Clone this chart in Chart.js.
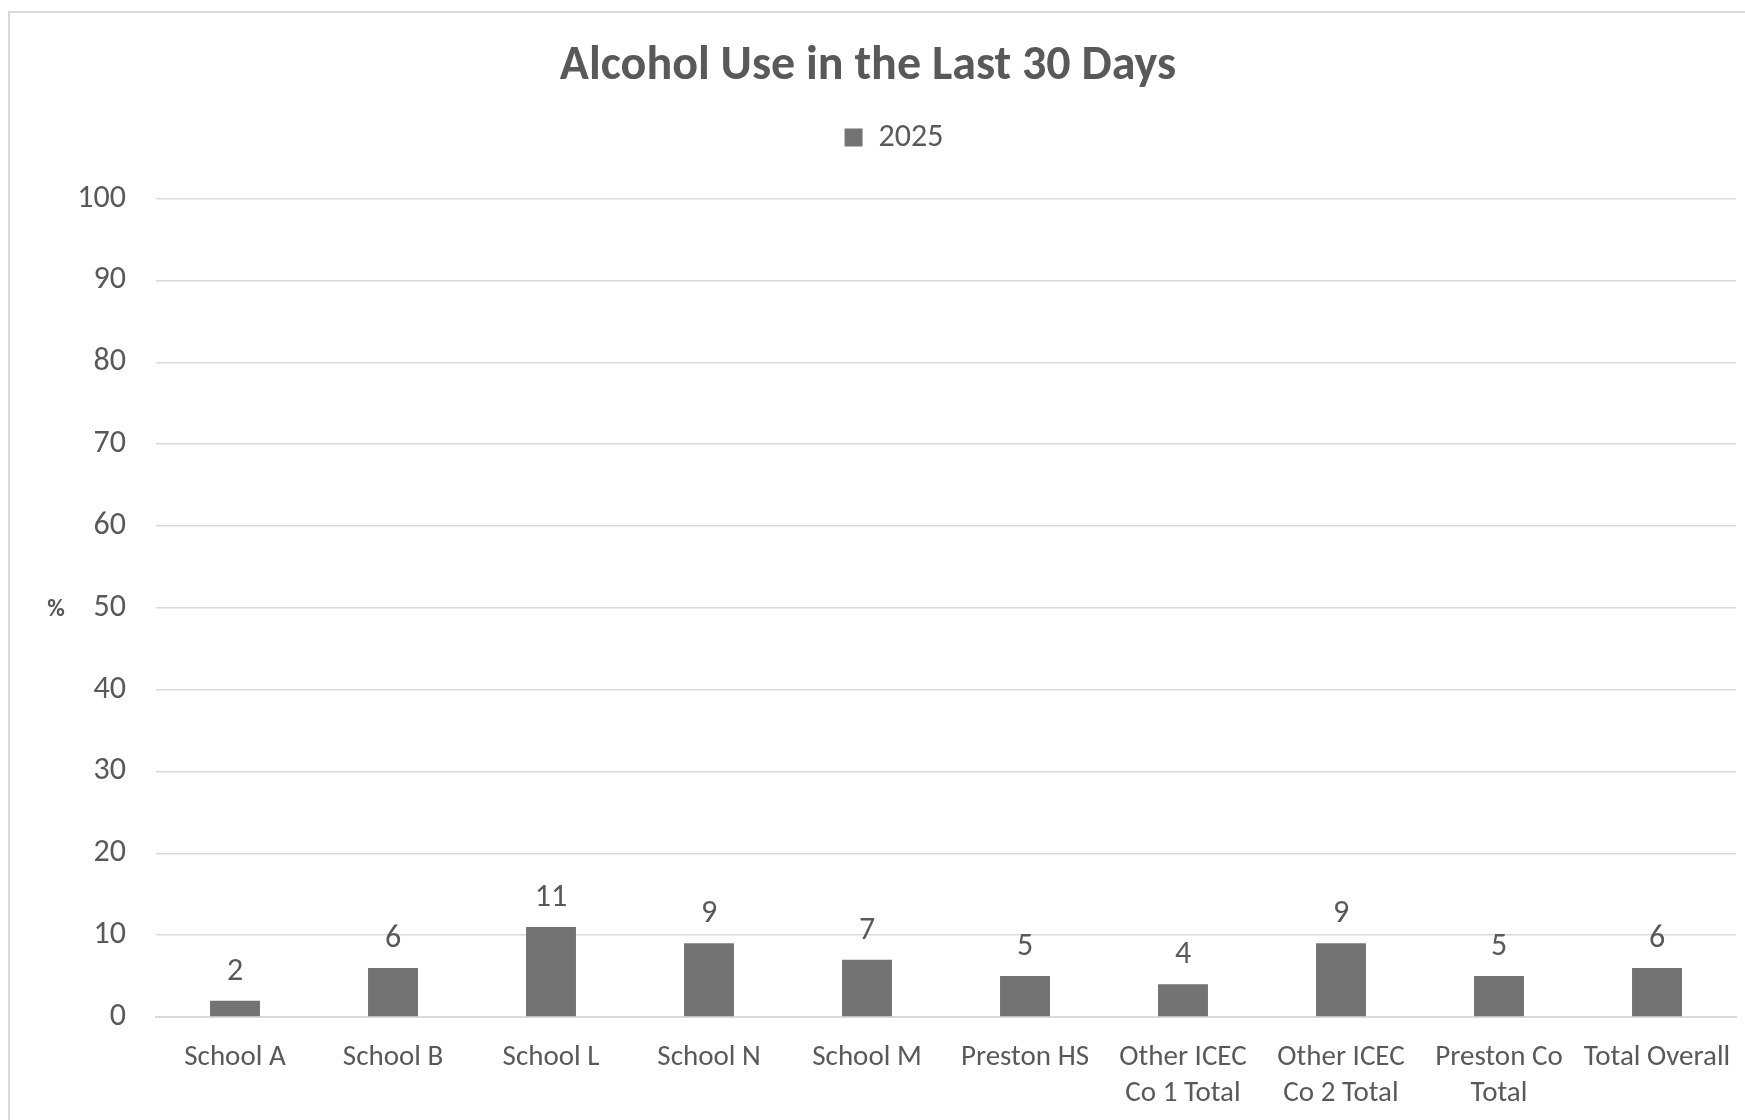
<!DOCTYPE html>
<html>
<head>
<meta charset="utf-8">
<script src="https://cdn.jsdelivr.net/npm/chart.js@4.4.1/dist/chart.umd.min.js"></script>
<style>
  html, body { margin: 0; padding: 0; background: #fff; }
  #wrap { position: relative; width: 1745px; height: 1120px; overflow: hidden; }
  #frame { position: absolute; left: 8px; top: 11px; width: 1760px; height: 1130px;
           border: 2px solid #d9d9d9; box-sizing: border-box; }
  #chart { position: absolute; left: 0; top: 0; }
</style>
</head>
<body>
<div id="wrap">
  <div id="frame"></div>
  <canvas id="chart" width="1745" height="1120"></canvas>
</div>
<script>
// chart data
const categories = ['School A', 'School B', 'School L', 'School N', 'School M', 'Preston HS',
  ['Other ICEC', 'Co 1 Total'], ['Other ICEC', 'Co 2 Total'], ['Preston Co', 'Total'], 'Total Overall'];
const values2025 = [2, 6, 11, 9, 7, 5, 4, 9, 5, 6];
const seriesName = '2025';
const yTicks = [0, 10, 20, 30, 40, 50, 60, 70, 80, 90, 100];

const textColor = '#595959';
const barColor = '#737373';
const fontFamily = "Carlito, Lato, 'Open Sans', sans-serif";

// value labels above each bar
const barLabels = {
  id: 'barLabels',
  afterDatasetsDraw(chart) {
    const ctx = chart.ctx;
    const meta = chart.getDatasetMeta(0);
    ctx.save();
    ctx.font = '32px ' + fontFamily;
    ctx.fillStyle = textColor;
    ctx.textAlign = 'center';
    ctx.textBaseline = 'alphabetic';
    meta.data.forEach((bar, i) => {
      ctx.fillText(String(values2025[i]), bar.x, bar.y - 21);
    });
    ctx.restore();
  }
};

// "%" axis title, drawn upright next to the y ticks
const yAxisTitle = {
  id: 'yAxisTitle',
  afterDraw(chart) {
    const ctx = chart.ctx;
    const y = chart.scales.y.getPixelForValue(50);
    ctx.save();
    ctx.font = 'bold 24px ' + fontFamily;
    ctx.fillStyle = textColor;
    ctx.textAlign = 'center';
    ctx.textBaseline = 'middle';
    ctx.fillText('%', 56, y + 2);
    ctx.restore();
  }
};

// fixed legend box height so the plot starts where the original does,
// and a small nudge so the swatch sits closer to its text like Excel's
const legendTweak = {
  id: 'legendTweak',
  beforeLayout(chart) {
    const legend = chart.legend;
    if (!legend || legend._patched) return;
    const fit = legend.fit;
    legend.fit = function () {
      fit.call(this);
      this.height = 93;
    };
    const draw = legend.draw;
    legend.draw = function () {
      const c = this.ctx;
      c.save();
      c.translate(26, 0);
      draw.call(this);
      c.restore();
    };
    legend._patched = true;
  }
};

const ctx = document.getElementById('chart').getContext('2d');
new Chart(ctx, {
  type: 'bar',
  data: {
    labels: categories,
    datasets: [{
      label: seriesName,
      data: values2025,
      backgroundColor: barColor,
      borderWidth: 0,
      categoryPercentage: 1,
      barPercentage: 0.316
    }]
  },
  options: {
    responsive: false,
    animation: false,
    layout: { padding: { left: 0, right: 9, top: 0, bottom: 0 } },
    plugins: {
      title: {
        display: true,
        text: 'Alcohol Use in the Last 30 Days',
        color: textColor,
        font: { family: fontFamily, size: 48, weight: 'bold', lineHeight: 1.2 },
        padding: { top: 38, bottom: 10 }
      },
      legend: {
        display: true,
        position: 'top',
        labels: {
          color: textColor,
          font: { family: fontFamily, size: 32 },
          boxWidth: 18,
          boxHeight: 18,
          padding: 16
        }
      },
      tooltip: { enabled: false }
    },
    scales: {
      x: {
        grid: { display: false, drawTicks: false },
        border: { display: true, color: '#d9d9d9', width: 2 },
        ticks: {
          color: textColor,
          font: { family: fontFamily, size: 29, lineHeight: 1.24 },
          padding: 23,
          maxRotation: 0,
          autoSkip: false
        },
        afterFit(scale) {
          scale.height = 103;
          scale.paddingLeft = 0;
          scale.paddingRight = 0;
        }
      },
      y: {
        min: 0,
        max: 100,
        afterBuildTicks(scale) { scale.ticks = yTicks.map(v => ({ value: v })); },
        grid: { color: '#d9d9d9', lineWidth: 1.5, drawTicks: false },
        border: { display: false },
        ticks: {
          color: textColor,
          font: { family: fontFamily, size: 32 },
          padding: 30
        },
        afterFit(scale) { scale.width = 156; }
      }
    }
  },
  plugins: [legendTweak, barLabels, yAxisTitle]
});
</script>
</body>
</html>
